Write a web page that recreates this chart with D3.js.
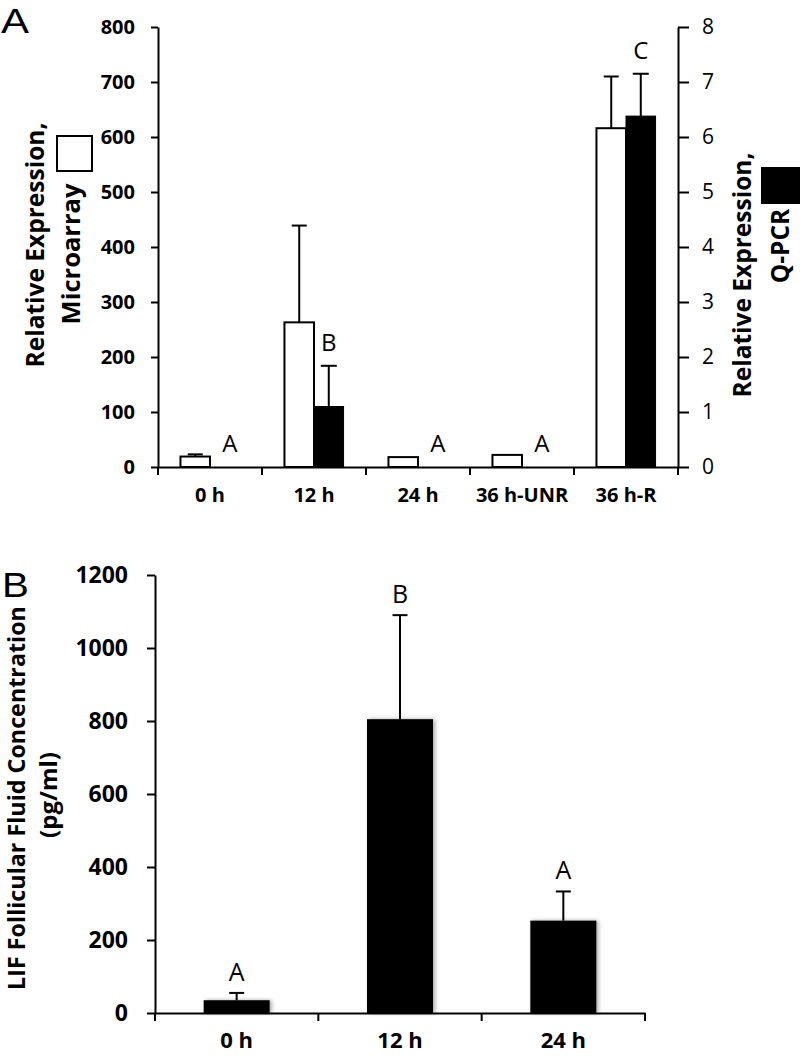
<!DOCTYPE html>
<html>
<head>
<meta charset="utf-8">
<script src="https://cdn.jsdelivr.net/npm/d3@7"></script>
<style>
  html, body { margin: 0; padding: 0; background: #fff; }
  svg { display: block; }
  text { font-family: "Open Sans", "DejaVu Sans", sans-serif; fill: #000; }
  .bold { font-weight: 700; }
  .panel { font-family: "Liberation Sans", Arial, sans-serif; }
</style>
</head>
<body>
<svg id="chart" width="800" height="1056"></svg>
<script>
// ---------- Data: Panel A ----------
const catsA = ["0 h", "12 h", "24 h", "36 h-UNR", "36 h-R"];
const microValues = [19, 263, 18, 22, 616];
const microErrors = [4, 176, 0, 0, 94];
const qpcrValues = [0, 1.10, 0, 0, 6.38];
const qpcrErrors = [0, 0.74, 0, 0, 0.77];
const lettersA = ["A", "B", "A", "A", "C"];
const ticksALeft = [0, 100, 200, 300, 400, 500, 600, 700, 800];
const ticksARight = [0, 1, 2, 3, 4, 5, 6, 7, 8];

// ---------- Data: Panel B ----------
const catsB = ["0 h", "12 h", "24 h"];
const lifValues = [35, 805, 253];
const lifErrors = [20, 285, 80];
const lettersB = ["A", "B", "A"];
const ticksB = [0, 200, 400, 600, 800, 1000, 1200];

const svg = d3.select("#chart");
const defs = svg.append("defs");
const f = defs.append("filter").attr("id", "shadow")
  .attr("x", "-20%").attr("y", "-20%").attr("width", "140%").attr("height", "140%");
f.append("feGaussianBlur").attr("in", "SourceAlpha").attr("stdDeviation", 2.2).attr("result", "b");
f.append("feOffset").attr("in", "b").attr("dx", 1.5).attr("dy", 0).attr("result", "o");
f.append("feComponentTransfer").attr("in", "o").attr("result", "o2")
  .append("feFuncA").attr("type", "linear").attr("slope", 0.35);
const fm = f.append("feMerge");
fm.append("feMergeNode").attr("in", "o2");
fm.append("feMergeNode").attr("in", "SourceGraphic");

function styleAxis(g) {
  g.selectAll("path.domain").attr("stroke", "#000").attr("stroke-width", 2);
  g.selectAll(".tick line").attr("stroke", "#000").attr("stroke-width", 2);
}

// ================= PANEL A =================
const A = { left: 158, right: 678, top: 27, bottom: 467 };
const xA = d3.scaleBand().domain(catsA).range([A.left, A.right]).padding(0);
const xA1 = d3.scaleBand().domain(["micro", "qpcr"]).range([0, xA.bandwidth()])
  .paddingInner(0).paddingOuter(0.76);
const yL = d3.scaleLinear().domain([0, 800]).range([A.bottom, A.top]);
const yR = d3.scaleLinear().domain([0, 8]).range([A.bottom, A.top]);

const gA = svg.append("g");

const microData = catsA.map((c, i) => ({ c, v: microValues[i], e: microErrors[i] }));
const qpcrData = catsA.map((c, i) => ({ c, v: qpcrValues[i], e: qpcrErrors[i] }));

gA.selectAll("rect.micro").data(microData).enter().append("rect")
  .attr("class", "micro")
  .attr("x", d => xA(d.c) + xA1("micro"))
  .attr("y", d => yL(d.v))
  .attr("width", xA1.bandwidth())
  .attr("height", d => yL(0) - yL(d.v))
  .attr("fill", "#fff").attr("stroke", "#000").attr("stroke-width", 2);

gA.selectAll("rect.qpcr").data(qpcrData.filter(d => d.v > 0)).enter().append("rect")
  .attr("class", "qpcr")
  .attr("x", d => xA(d.c) + xA1("qpcr"))
  .attr("y", d => yR(d.v))
  .attr("width", xA1.bandwidth())
  .attr("height", d => yR(0) - yR(d.v))
  .attr("fill", "#000").attr("stroke", "#000").attr("stroke-width", 1);

function errBars(g, data, xf, yf, cap) {
  const eb = g.selectAll(null).data(data.filter(d => d.e > 0)).enter().append("g");
  eb.append("line")
    .attr("x1", xf).attr("x2", xf)
    .attr("y1", d => yf(d.v)).attr("y2", d => yf(d.v + d.e))
    .attr("stroke", "#000").attr("stroke-width", 2);
  eb.append("line")
    .attr("x1", d => xf(d) - cap / 2).attr("x2", d => xf(d) + cap / 2)
    .attr("y1", d => yf(d.v + d.e)).attr("y2", d => yf(d.v + d.e))
    .attr("stroke", "#000").attr("stroke-width", 2);
}
errBars(gA, microData, d => xA(d.c) + xA1("micro") + xA1.bandwidth() / 2, yL, 15);
errBars(gA, qpcrData, d => xA(d.c) + xA1("qpcr") + xA1.bandwidth() / 2, yR, 16);

gA.selectAll("text.letter").data(qpcrData).enter().append("text")
  .attr("class", "letter")
  .attr("x", d => xA(d.c) + xA1("qpcr") + xA1.bandwidth() / 2 + (d.v === 0 ? 5 : 0))
  .attr("y", d => yR(d.v + d.e) - 15)
  .attr("text-anchor", "middle")
  .attr("font-size", 24)
  .text((d, i) => lettersA[i]);

const axL = gA.append("g").attr("transform", `translate(${A.left},0)`)
  .call(d3.axisLeft(yL).tickValues(ticksALeft).tickSize(7).tickSizeOuter(0).tickPadding(16).tickFormat(d3.format("d")));
styleAxis(axL);
axL.selectAll("text").attr("class", "bold").attr("font-size", 20).attr("font-family", null);

const axR = gA.append("g").attr("transform", `translate(${A.right},0)`)
  .call(d3.axisRight(yR).tickValues(ticksARight).tickSize(11).tickSizeOuter(0).tickPadding(13).tickFormat(d3.format("d")));
styleAxis(axR);
axR.selectAll("text").attr("font-size", 21).attr("font-family", null);

const axB = gA.append("g").attr("transform", `translate(0,${A.bottom})`)
  .call(d3.axisBottom(xA).tickSize(0).tickPadding(21));
axB.select("path.domain").attr("stroke", "#000").attr("stroke-width", 2);
axB.selectAll("text").attr("class", "bold").attr("font-size", 20).attr("font-family", null);
const boundA = catsA.map(c => xA(c)).concat([xA.range()[1]]);
gA.selectAll("line.bt").data(boundA).enter().append("line")
  .attr("x1", d => d).attr("x2", d => d)
  .attr("y1", A.bottom).attr("y2", A.bottom + 8)
  .attr("stroke", "#000").attr("stroke-width", 2);

gA.append("text").attr("class", "bold").attr("font-size", 24.5)
  .attr("text-anchor", "middle")
  .attr("transform", "translate(44,245) rotate(-90)")
  .text("Relative Expression,");
gA.append("text").attr("class", "bold").attr("font-size", 25.5)
  .attr("text-anchor", "middle")
  .attr("transform", "translate(80,254) rotate(-90)")
  .text("Microarray");
gA.append("rect").attr("x", 57).attr("y", 136).attr("width", 35).attr("height", 35)
  .attr("fill", "#fff").attr("stroke", "#000").attr("stroke-width", 2);

gA.append("text").attr("class", "bold").attr("font-size", 24.5)
  .attr("text-anchor", "middle")
  .attr("transform", "translate(751,275) rotate(-90)")
  .text("Relative Expression,");
gA.append("text").attr("class", "bold").attr("font-size", 24.5)
  .attr("text-anchor", "middle")
  .attr("transform", "translate(789,246) rotate(-90)")
  .text("Q-PCR");
gA.append("rect").attr("x", 761).attr("y", 167).attr("width", 40).attr("height", 37)
  .attr("fill", "#000");

svg.append("text").attr("class", "panel").attr("transform", "translate(1,33) scale(1.2,1)").attr("font-size", 35).text("A");

// ================= PANEL B =================
const B = { left: 155, right: 645, top: 575, bottom: 1013 };
const xB = d3.scaleBand().domain(catsB).range([B.left, B.right]).paddingInner(0.596).paddingOuter(0.298);
const yB = d3.scaleLinear().domain([0, 1200]).range([B.bottom, B.top]);
const gB = svg.append("g");

const lifData = catsB.map((c, i) => ({ c, v: lifValues[i], e: lifErrors[i] }));

gB.selectAll("rect.lif").data(lifData).enter().append("rect")
  .attr("class", "lif")
  .attr("x", d => xB(d.c))
  .attr("y", d => yB(d.v))
  .attr("width", xB.bandwidth())
  .attr("height", d => yB(0) - yB(d.v))
  .attr("fill", "#000")
  .attr("filter", "url(#shadow)");

errBars(gB, lifData, d => xB(d.c) + xB.bandwidth() / 2, yB, 15);

gB.selectAll("text.letter").data(lifData).enter().append("text")
  .attr("class", "letter")
  .attr("x", d => xB(d.c) + xB.bandwidth() / 2)
  .attr("y", d => yB(d.v + d.e) - 12)
  .attr("text-anchor", "middle")
  .attr("font-size", 25)
  .text((d, i) => lettersB[i]);

const axBL = gB.append("g").attr("transform", `translate(${B.left},0)`)
  .call(d3.axisLeft(yB).tickValues(ticksB).tickSize(8).tickSizeOuter(0).tickPadding(19).tickFormat(d3.format("d")));
styleAxis(axBL);
axBL.selectAll("text").attr("class", "bold").attr("font-size", 23).attr("font-family", null);

const axBB = gB.append("g").attr("transform", `translate(0,${B.bottom})`)
  .call(d3.axisBottom(xB).tickSize(0).tickPadding(19));
axBB.select("path.domain").attr("stroke", "#000").attr("stroke-width", 2);
axBB.selectAll("text").attr("class", "bold").attr("font-size", 22).attr("font-family", null);
const step = xB.step();
const boundB = [B.left].concat(catsB.map(c => xB(c) + xB.bandwidth() / 2 + step / 2));
gB.selectAll("line.bt").data(boundB).enter().append("line")
  .attr("x1", d => d).attr("x2", d => d)
  .attr("y1", B.bottom).attr("y2", B.bottom + 8)
  .attr("stroke", "#000").attr("stroke-width", 2);

gB.append("text").attr("class", "bold").attr("font-size", 23.3)
  .attr("text-anchor", "middle")
  .attr("transform", "translate(25,798) rotate(-90)")
  .text("LIF Follicular Fluid Concentration");
gB.append("text").attr("class", "bold").attr("font-size", 24)
  .attr("text-anchor", "middle")
  .attr("transform", "translate(57,795) rotate(-90)")
  .text("(pg/ml)");

svg.append("text").attr("class", "panel").attr("transform", "translate(2,597) scale(1.15,1)").attr("font-size", 35).text("B");
</script>
</body>
</html>
